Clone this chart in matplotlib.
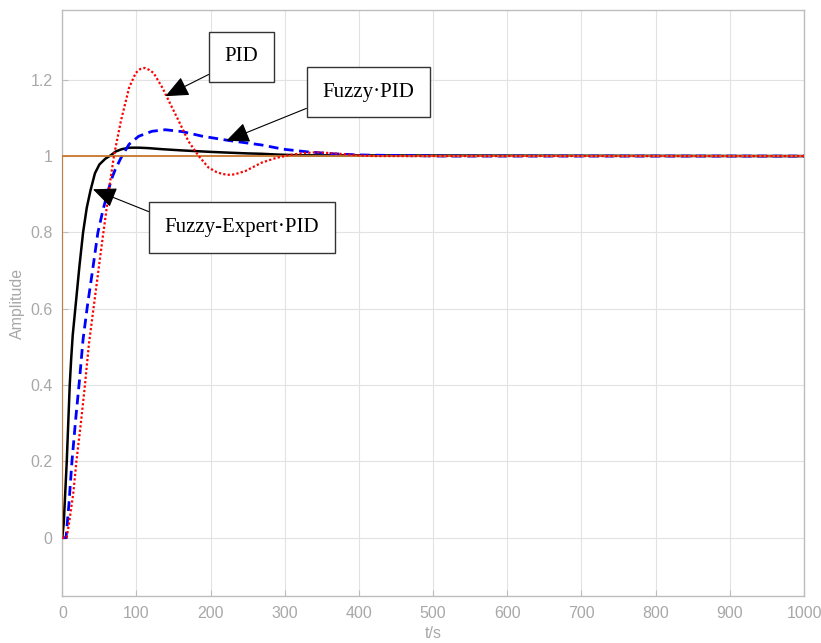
import matplotlib
matplotlib.use("Agg")
import matplotlib.pyplot as plt

# ---------------- data ----------------
t_step = [0, 0, 1000]
y_step = [0, 1, 1]

t_pid = [0, 6, 10, 15, 19, 25, 30, 36, 42, 48, 54, 60, 65, 70, 79, 90, 99, 105,
         111, 117, 123, 135, 146, 157, 170, 184, 197, 208, 216, 224, 232, 247,
         269, 288, 307, 325, 343, 360, 380, 400, 420, 450, 500, 1000]
y_pid = [0, 0, 0.05, 0.12, 0.2, 0.3, 0.39, 0.51, 0.6, 0.69, 0.78, 0.866, 0.94,
         1.005, 1.092, 1.179, 1.218, 1.228, 1.231, 1.226, 1.218, 1.179, 1.135,
         1.092, 1.039, 1.0, 0.970, 0.958, 0.953, 0.951, 0.952, 0.961, 0.983,
         0.995, 1.003, 1.008, 1.010, 1.008, 1.005, 1.002, 1.0, 1.0, 1.0, 1.0]

t_fuzzy = [0, 5, 9, 13, 18, 23, 28, 34, 40, 48, 55, 62, 67, 71, 79, 85, 90, 103,
           121, 139, 162, 189, 224, 269, 298, 331, 365, 400, 433, 470, 520, 1000]
y_fuzzy = [0, 0, 0.09, 0.2, 0.31, 0.41, 0.52, 0.61, 0.69, 0.8, 0.86, 0.911,
           0.943, 0.963, 0.995, 1.015, 1.031, 1.052, 1.065, 1.069, 1.064, 1.052,
           1.041, 1.029, 1.018, 1.011, 1.006, 1.003, 1.002, 1.001, 1.0, 1.0]

t_fe = [0, 2, 4, 6, 8, 10, 12, 14, 18, 23, 28, 33, 38, 44, 50, 58, 66, 72, 80,
        90, 103, 115, 135, 160, 180, 200, 224, 250, 269, 290, 320, 1000]
y_fe = [0, 0.04, 0.12, 0.2, 0.3, 0.4, 0.47, 0.53, 0.61, 0.71, 0.8, 0.865, 0.91,
        0.955, 0.978, 0.993, 1.003, 1.012, 1.018, 1.022, 1.022, 1.021, 1.018,
        1.015, 1.013, 1.011, 1.009, 1.007, 1.006, 1.004, 1.002, 1.0]

x_ticks = [0, 100, 200, 300, 400, 500, 600, 700, 800, 900, 1000]
y_ticks = [0, 0.2, 0.4, 0.6, 0.8, 1.0, 1.2]
y_tick_labels = ["0", "0.2", "0.4", "0.6", "0.8", "1", "1.2"]

labels = ["PID", "Fuzzy·PID", "Fuzzy-Expert·PID"]

# ---------------- figure ----------------
fig = plt.figure(figsize=(8.21, 6.43), dpi=100)
ax = fig.add_axes([0.0759, 0.0731, 0.9034, 0.9113])

ax.plot(t_fe, y_fe, color="black", lw=1.8, zorder=3)
ax.plot(t_fuzzy, y_fuzzy, color="#0000FF", lw=2.0, dashes=(3.5, 2), zorder=4)
ax.plot(t_step, y_step, color="#C8782F", lw=1.3, zorder=5)
ax.plot(t_pid, y_pid, color="#FF0000", lw=1.6, linestyle=(0, (1, 1)), zorder=6)

ax.set_xlim(0, 1000)
ax.set_ylim(-0.1527, 1.3827)
ax.set_xticks(x_ticks)
ax.set_yticks(y_ticks)
ax.set_yticklabels(y_tick_labels)

gray = "#A8A8A8"
ax.grid(True, color="#E2E2E2", lw=0.8, zorder=0)
ax.set_axisbelow(True)
for s in ax.spines.values():
    s.set_color("#BDBDBD")
    s.set_linewidth(1.0)
ax.tick_params(direction="in", length=4, width=0.8, color="#BDBDBD",
               labelcolor=gray, labelsize=11.5, pad=7)
for lab in ax.get_xticklabels() + ax.get_yticklabels():
    lab.set_fontfamily("Liberation Sans")

ax.set_xlabel("t/s", fontsize=11.5, color=gray, family="Liberation Sans")
ax.set_ylabel("Amplitude", fontsize=11.5, color=gray, family="Liberation Sans")
ax.xaxis.set_label_coords(0.5, -0.052)
ax.yaxis.set_label_coords(-0.05, 0.5)

box = dict(boxstyle="square,pad=0.75", fc="white", ec="#333333", lw=1.0)
afont = dict(family="Liberation Serif", size=15, color="black")

def arrow(relpos):
    return dict(arrowstyle="-|>,head_length=0.8,head_width=0.35", color="black",
                lw=0.8, mutation_scale=18, relpos=relpos, shrinkA=0, shrinkB=0)

ax.annotate(labels[0], xy=(139, 1.157), xytext=(241.9, 1.260), ha="center",
            va="center", bbox=box, arrowprops=arrow((0, 0)), zorder=10, **afont)
ax.annotate(labels[1], xy=(221, 1.040), xytext=(412.8, 1.167), ha="center",
            va="center", bbox=box, arrowprops=arrow((0, 0)), zorder=10, **afont)
ax.annotate(labels[2], xy=(41.3, 0.913), xytext=(242.5, 0.8126), ha="center",
            va="center", bbox=box, arrowprops=arrow((0, 1)), zorder=10, **afont)

fig.savefig("out.png", dpi=100)
